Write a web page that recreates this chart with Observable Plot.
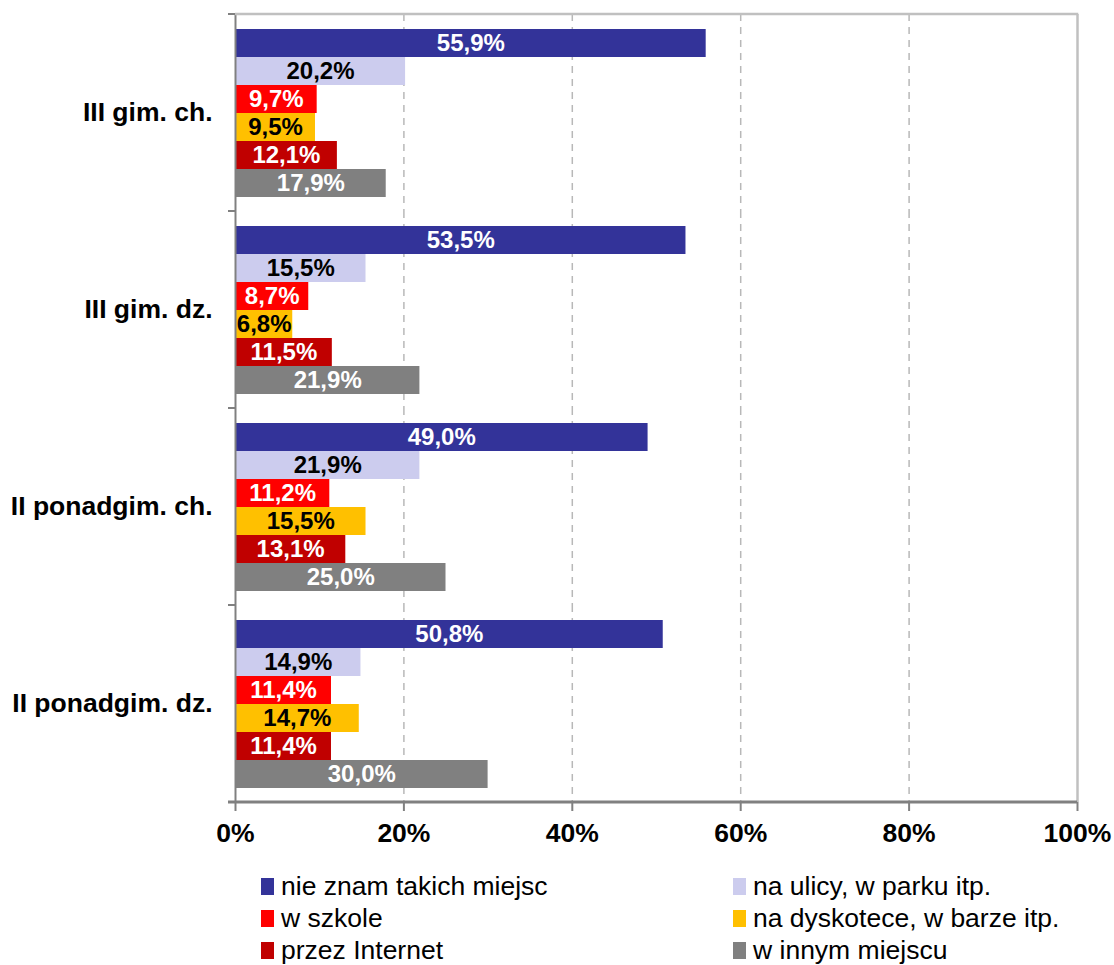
<!DOCTYPE html>
<html>
<head>
<meta charset="utf-8">
<script src="https://cdn.jsdelivr.net/npm/d3@7"></script>
<script src="https://cdn.jsdelivr.net/npm/@observablehq/plot@0.6"></script>
<style>
  html, body { margin: 0; padding: 0; background: #fff; }
  body { position: relative; width: 1114px; height: 965px; font-family: "Liberation Sans", Arial, sans-serif; }
  #legend { position: absolute; top: 870px; left: 0; width: 1114px; font-size: 26.5px; color: #000; }
  .row { position: relative; height: 32px; line-height: 32px; }
  .item { position: absolute; top: 0; white-space: nowrap; display: flex; align-items: center; height: 32px; }
  .sw { display: inline-block; width: 13px; height: 17px; margin-right: 7px; }
</style>
</head>
<body>
<div id="chart"></div>
<div id="legend"></div>
<script>
const groups = ["III gim. ch.", "III gim. dz.", "II ponadgim. ch.", "II ponadgim. dz."];
const series = ["nie znam takich miejsc", "na ulicy, w parku itp.", "w szkole", "na dyskotece, w barze itp.", "przez Internet", "w innym miejscu"];
const seriesColors = ["#333399", "#ccccee", "#ff0000", "#ffc000", "#c00000", "#808080"];
const labelColors = ["#ffffff", "#000000", "#ffffff", "#000000", "#ffffff", "#ffffff"];

const valuesIIIgimCh = [55.9, 20.2, 9.7, 9.5, 12.1, 17.9];
const valuesIIIgimDz = [53.5, 15.5, 8.7, 6.8, 11.5, 21.9];
const valuesIIponCh = [49.0, 21.9, 11.2, 15.5, 13.1, 25.0];
const valuesIIponDz = [50.8, 14.9, 11.4, 14.7, 11.4, 30.0];
const groupValues = [valuesIIIgimCh, valuesIIIgimDz, valuesIIponCh, valuesIIponDz];

const xTicks = [0, 20, 40, 60, 80, 100];
const gridTicks = [20, 40, 60, 80];

const data = [];
groups.forEach((g, gi) => {
  series.forEach((s, si) => {
    data.push({group: g, series: s, value: groupValues[gi][si], labelColor: labelColors[si]});
  });
});

const fmt = v => v.toFixed(1).replace(".", ",") + "%";
const font = "'Liberation Sans', Arial, sans-serif";

const chart = Plot.plot({
  width: 1114,
  height: 855,
  marginTop: 14,
  marginLeft: 235,
  marginRight: 37,
  marginBottom: 53,
  style: {fontFamily: font, fontSize: "24px", fontWeight: "bold", background: "white", color: "black"},
  x: {domain: [0, 100], axis: null},
  y: {domain: series, paddingInner: 0, paddingOuter: 0.42, axis: null},
  fy: {domain: groups, padding: 0, axis: null},
  color: {domain: series, range: seriesColors},
  marks: [
    Plot.gridX(gridTicks, {stroke: "#b8b8b8", strokeOpacity: 1, strokeWidth: 1.5, strokeDasharray: "7,6"}),
    Plot.ruleX([100], {stroke: "#c0c0c0", strokeWidth: 2.5}),
    Plot.barX(data, {x: "value", y: "series", fy: "group", fill: "series"}),
    Plot.text(data, {x: d => d.value / 2, y: "series", fy: "group", text: d => fmt(d.value), fill: "labelColor", fontSize: 24, fontWeight: "bold"}),
    Plot.ruleX([0], {stroke: "#808080", strokeWidth: 2}),
    Plot.axisX(xTicks, {anchor: "bottom", tickFormat: d => d + "%", tickSize: 9, tickPadding: 12, stroke: "#808080", strokeWidth: 2, fill: "black", fontSize: 26.5, fontWeight: "bold", label: null}),
    Plot.axisFy({anchor: "left", tickSize: 0, tickPadding: 23, label: null, fontSize: 26.5, fontWeight: "bold", fill: "black"})
  ]
});

document.getElementById("chart").appendChild(chart);

// frame decorations derived from the scales
const xs = chart.scale("x");
const fys = chart.scale("fy");
const svg = d3.select(chart.tagName.toLowerCase() === "svg" ? chart : chart.querySelector("svg"));
const xa = xs.apply(0), xb = xs.apply(100);
const bounds = groups.map(g => fys.apply(g));
const bottom = fys.apply(groups[groups.length - 1]) + fys.bandwidth;
bounds.push(bottom);
const deco = svg.append("g");
deco.append("line").attr("x1", xa).attr("x2", xb + 1.25).attr("y1", bounds[0]).attr("y2", bounds[0])
  .attr("stroke", "#c0c0c0").attr("stroke-width", 2.5);
bounds.forEach(b => {
  deco.append("line").attr("x1", xa - 7).attr("x2", xa).attr("y1", b).attr("y2", b)
    .attr("stroke", "#808080").attr("stroke-width", 2);
});
deco.append("line").attr("x1", xa - 7).attr("x2", xb).attr("y1", bottom).attr("y2", bottom)
  .attr("stroke", "#808080").attr("stroke-width", 3);

// legend
const legend = document.getElementById("legend");
for (let r = 0; r < 3; r++) {
  const row = document.createElement("div");
  row.className = "row";
  for (let c = 0; c < 2; c++) {
    const i = r * 2 + c;
    const item = document.createElement("div");
    item.className = "item";
    item.style.left = (c === 0 ? 261 : 733) + "px";
    const sw = document.createElement("span");
    sw.className = "sw";
    sw.style.background = seriesColors[i];
    item.appendChild(sw);
    item.appendChild(document.createTextNode(series[i]));
    row.appendChild(item);
  }
  legend.appendChild(row);
}
</script>
</body>
</html>
